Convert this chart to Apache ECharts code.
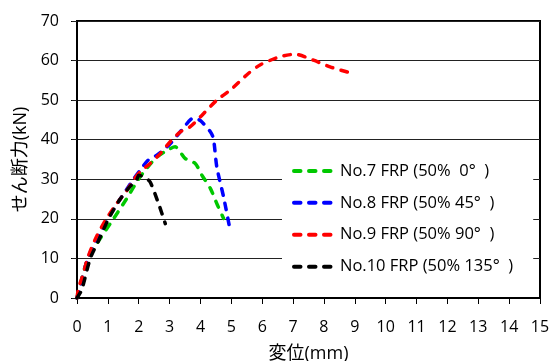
<!DOCTYPE html>
<html>
<head>
<meta charset="utf-8">
<script src="https://cdn.jsdelivr.net/npm/echarts@6/dist/echarts.min.js"></script>
<style>
html,body{margin:0;padding:0;background:#fff;}
#c{width:552px;height:361px;}
</style>
</head>
<body>
<div id="c"></div>
<script>
const seriesNames = ['No.7 FRP (50%  0°  )', 'No.8 FRP (50% 45°  )', 'No.9 FRP (50% 90°  )', 'No.10 FRP (50% 135°  )'];
const seriesColors = ['#00C800', '#0000FF', '#FF0000', '#000000'];

const no7 = [[0,0],[0.16,5],[0.36,10],[0.75,15],[1.18,20],[1.6,25],[1.99,30],[2.21,32.3],[2.54,35.3],[2.85,37],[3.18,38.2],[3.5,35.3],[3.83,34],[4.05,31],[4.32,27.7],[4.55,23.5],[4.75,20.1]];
const no8 = [[0,0],[0.1,3],[0.35,10],[0.65,15],[0.99,20],[1.4,25],[1.83,30],[2.05,32.3],[2.3,34.8],[2.59,36.1],[3.02,39],[3.4,42.5],[3.78,45.5],[4.0,44.8],[4.32,42],[4.42,40.3],[4.53,33.1],[4.75,25.5],[4.94,18]];
const no9 = [[0,0],[0.05,2.5],[0.2,6],[0.34,10],[0.6,15],[0.95,20],[1.3,24],[1.6,27],[1.85,30],[2.05,31.9],[2.37,34],[2.7,36.5],[3.02,39.5],[3.35,42],[3.67,43.3],[4.05,46.2],[4.53,50],[4.96,52.5],[5.56,56.8],[5.93,58.9],[6.58,61],[7.07,61.6],[7.66,60.1],[8.2,58.4],[8.85,56.9]];
const no10 = [[0,0],[0.15,2],[0.43,10],[0.7,14.5],[1.02,20],[1.4,25],[1.7,28],[1.94,30],[2.0,31],[2.2,30.5],[2.37,29.3],[2.64,23.9],[2.86,18.8]];
const allData = [no7, no8, no9, no10];

const xName = '変位(mm)';
const yName = 'せん断力(kN)';
const xMin = 0, xMax = 15, xStep = 1;
const yMin = 0, yMax = 70, yStep = 10;

const FONT = "'Open Sans', 'Noto Sans CJK JP', sans-serif";
const DASH = [6.5, 8.5];

const chart = echarts.init(document.getElementById('c'), null, {renderer: 'canvas'});
chart.setOption({
  animation: false,
  backgroundColor: '#fff',
  grid: {left: 77, right: 12, top: 21, bottom: 63, show: true, borderColor: '#000', borderWidth: 2, backgroundColor: 'transparent', outerBoundsMode: 'none', containLabel: false},
  legend: {
    data: seriesNames,
    orient: 'vertical',
    left: 282, top: 152,
    backgroundColor: '#fff',
    padding: [10.7, 20, 17, 10],
    itemWidth: 40, itemHeight: 16, itemGap: 15.4,
    itemStyle: {opacity: 0},
    lineStyle: {width: 4, type: DASH, cap: 'round'},
    textStyle: {fontFamily: FONT, fontSize: 16.5, color: '#000', lineHeight: 16, padding: [0,0,0,1]}
  },
  xAxis: [{
    type: 'value', min: xMin, max: xMax, interval: xStep,
    name: xName, nameLocation: 'middle', nameGap: 47,
    nameTextStyle: {fontFamily: FONT, fontSize: 18, color: '#000'},
    axisLine: {show: true, onZero: false, lineStyle: {color: '#000', width: 2}},
    axisTick: {show: true, inside: false, length: 6, lineStyle: {color: '#000', width: 1}},
    axisLabel: {fontFamily: FONT, fontSize: 16, color: '#000', margin: 21},
    splitLine: {show: false}
  }],
  yAxis: [{
    type: 'value', min: yMin, max: yMax, interval: yStep,
    name: yName, nameLocation: 'middle', nameGap: 46, nameRotate: 90,
    nameTextStyle: {fontFamily: FONT, fontSize: 18, color: '#000'},
    axisLine: {show: true, onZero: false, lineStyle: {color: '#000', width: 2}},
    axisTick: {show: true, inside: false, length: 6, lineStyle: {color: '#000', width: 1}},
    axisLabel: {fontFamily: FONT, fontSize: 16, color: '#000', margin: 18},
    splitLine: {show: true, lineStyle: {color: '#222', width: 1}}
  }, {
    type: 'value', min: yMin, max: yMax, interval: yStep, position: 'right', z: 6,
    axisLine: {show: false},
    axisTick: {show: true, inside: true, length: 5, lineStyle: {color: '#222', width: 1}},
    axisLabel: {show: false},
    splitLine: {show: false}
  }],
  series: allData.map((d, i) => ({
    name: seriesNames[i],
    type: 'line',
    data: d,
    showSymbol: false,
    symbol: 'none',
    smooth: 0.25,
    lineStyle: {color: seriesColors[i], width: 3.5, type: DASH, cap: 'round', join: 'round'},
    itemStyle: {color: seriesColors[i]},
    z: 3 + i
  }))
});
</script>
</body>
</html>
